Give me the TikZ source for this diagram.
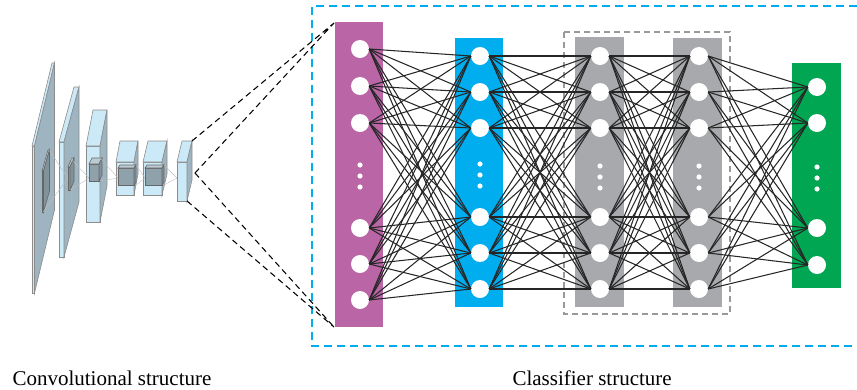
\documentclass[tikz,border=0pt]{standalone}
\usepackage{fontspec}
\setmainfont{Liberation Serif}

\definecolor{inlayer}{RGB}{185,101,166}
\definecolor{hidlayer}{RGB}{0,174,239}
\definecolor{deeplayer}{RGB}{167,169,172}
\definecolor{outlayer}{RGB}{0,166,81}
\definecolor{slabblue}{RGB}{204,233,247}
\definecolor{slabgrey}{RGB}{158,180,192}
\definecolor{kerngrey}{RGB}{143,162,172}

% one block of the conv stack: x, top, bottom, width, dx, dy, kind
\newcommand\convslab[7]{%
  \filldraw[#7front] (#1,#2) rectangle (#1+#4,#3);
  \filldraw[#7top] (#1,#2) -- (#1+#5,#2-#6) -- (#1+#4+#5,#2-#6) -- (#1+#4,#2) -- cycle;
  \filldraw[#7side] (#1+#4,#2) -- (#1+#4+#5,#2-#6) -- (#1+#4+#5,#3-#6) -- (#1+#4,#3) -- cycle;
}

\begin{document}
\begin{tikzpicture}[x=1pt,y=-1pt,
    slabfront/.style={fill=slabblue,draw=black!45,line width=.6pt},
    slabtop/.style={fill=slabblue,draw=black!45,line width=.6pt},
    slabside/.style={fill=slabgrey,draw=black!45,line width=.6pt},
    kernfront/.style={fill=kerngrey,draw=black!60,line width=.6pt},
    kerntop/.style={fill=slabgrey!70,draw=black!60,line width=.6pt},
    kernside/.style={fill=kerngrey!90!black,draw=black!60,line width=.6pt},
    unit/.style={circle,fill=white,inner sep=0pt,minimum size=18pt},
    link/.style={black!85,line width=1.05pt},
    field/.style={black,line width=1.05pt,dash pattern=on 6pt off 4pt},
    caption/.style={anchor=base west,font=\fontsize{21}{25}\selectfont}]
  \useasboundingbox (0,0) rectangle (857,389);

  % convolutional stack
  \convslab{32}{146}{293}{2.5}{20}{83}{slab}
  \convslab{42}{171}{212}{1.5}{6}{21}{kern}
  \convslab{59}{142}{257}{5}{15}{55}{slab}
  \convslab{68}{167}{190}{2}{4}{9}{kern}
  \convslab{86}{146}{222}{14}{7}{36}{slab}
  \convslab{89}{164}{181}{10}{3}{6}{kern}
  \convslab{116}{162}{195}{18}{4}{21}{slab}
  \convslab{118}{168}{185}{16}{2}{3}{kern}
  \convslab{143}{162}{195}{19}{5}{21}{slab}
  \convslab{145}{168}{185}{17}{2}{3}{kern}
  \convslab{177}{162}{201}{10}{5}{21}{slab}
  \foreach \a/\b/\c/\d/\e in {49/150/43/212/68, 70/158/70/190/89,
      100/158/100/181/118, 136/165/136/185/145, 164/165/164/185/177}
    \draw[black!25,line width=.4pt] (\a,\b) -- (\e,178) (\c,\d) -- (\e,178);
  \coordinate (fc1) at (192,141);
  \coordinate (fc2) at (195,173);
  \coordinate (fc3) at (187,201);

  % classifier
  \draw[hidlayer,line width=1.4pt,dash pattern=on 8pt off 5pt]
    (857,6) -- (312,6) -- (312,346) -- (857,346);
  \draw[black!40,line width=1.1pt,dash pattern=on 6pt off 4pt]
    (564,32) rectangle (730,314);
  \fill[inlayer] (335,22) rectangle (383,327);
  \fill[hidlayer] (455,38) rectangle (503,307);
  \fill[deeplayer] (575,37) rectangle (624,307);
  \fill[deeplayer] (673,38) rectangle (722,307);
  \fill[outlayer] (792,63) rectangle (841,288);
  \coordinate (it) at (334,23);
  \coordinate (ib) at (334,327);
  \draw[field] (fc1) -- (it) (fc2) -- (it) (fc2) -- (ib) (fc3) -- (ib);

  \foreach \y [count=\i] in {49,86,123,228,264,300}
    \node[unit] (p\i) at (360,\y) {};
  \foreach \y [count=\i] in {56,92,128,217,253,289} {
    \node[unit] (b\i) at (480,\y) {};
    \node[unit] (g\i) at (600,\y) {};
    \node[unit] (h\i) at (699,\y) {};
  }
  \foreach \y [count=\i] in {87,123,228,265}
    \node[unit] (o\i) at (817,\y) {};

  \foreach \i in {1,...,6} {
    \foreach \j in {1,...,6} {
      \draw[link] (p\i.east) -- (b\j.west);
      \draw[link] (b\i.east) -- (g\j.west);
      \draw[link] (g\i.east) -- (h\j.west);
    }
    \foreach \j in {1,...,4}
      \draw[link] (h\i.east) -- (o\j.west);
  }

  \foreach \x/\y in {360/165,480/164,600/166,699/166,817/167}
    \foreach \k in {0,11,22}
      \fill[white] (\x,\y+\k) circle (2.6);

  \node[caption] (convtext) at (9,385) {Convolutional structure};
  \node[caption] (clstext) at (509,385) {Classifier structure};
\end{tikzpicture}
\end{document}
